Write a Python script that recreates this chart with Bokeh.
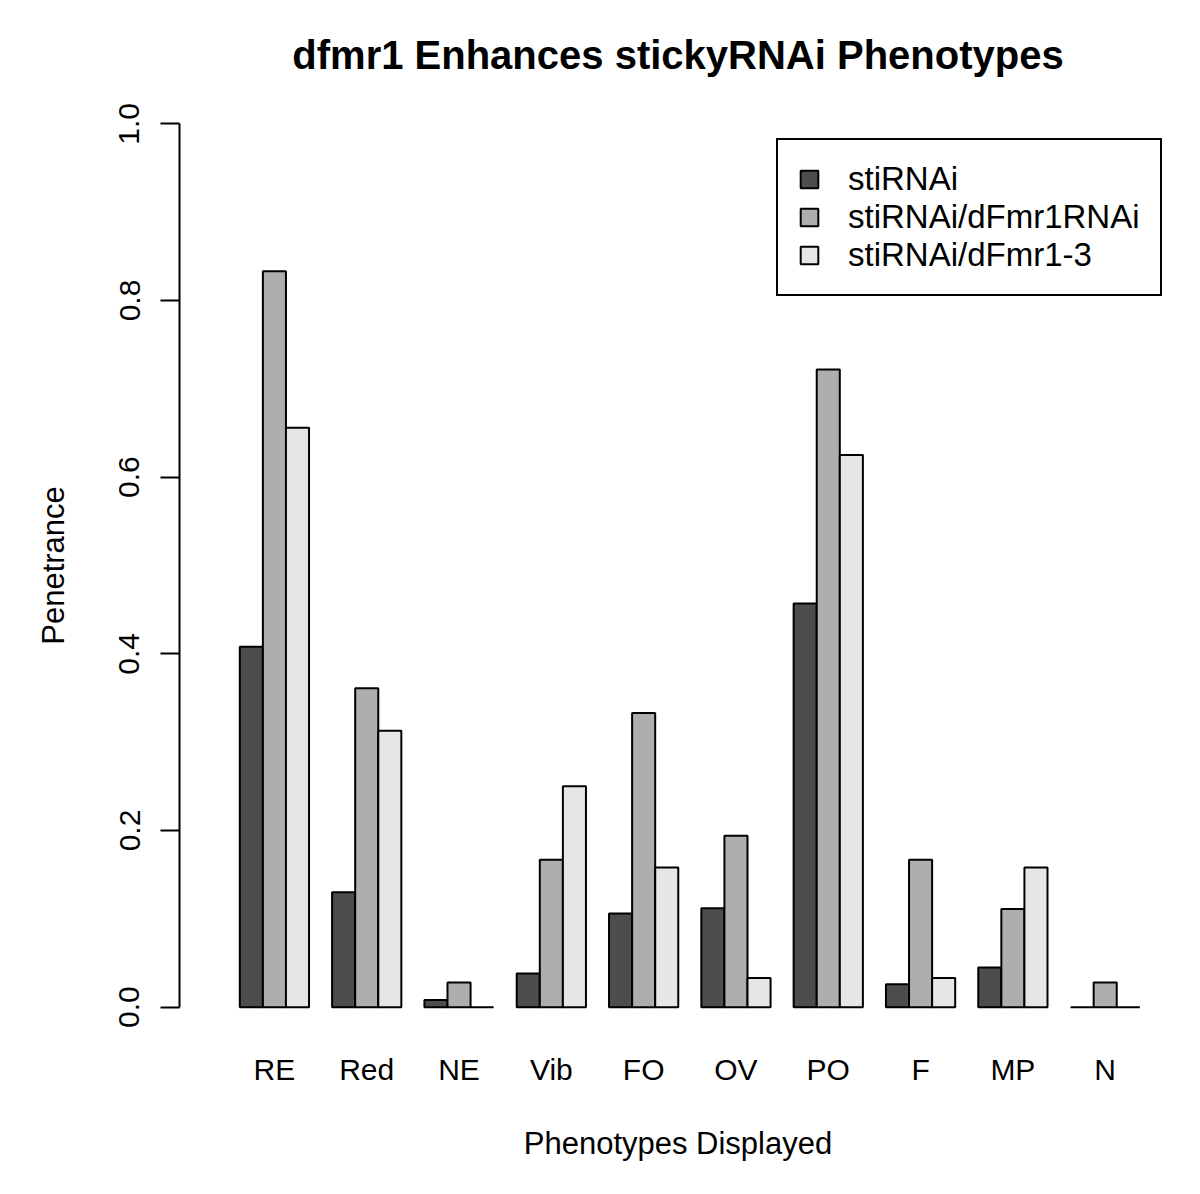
from bokeh.plotting import figure
from bokeh.models import ColumnDataSource, FixedTicker, Legend, LegendItem, Range1d
from bokeh.embed import file_html
from bokeh.resources import INLINE

categories = ["RE", "Red", "NE", "Vib", "FO", "OV", "PO", "F", "MP", "N"]
series_names = ["stiRNAi", "stiRNAi/dFmr1RNAi", "stiRNAi/dFmr1-3"]
sti = [0.408, 0.130, 0.008, 0.038, 0.106, 0.112, 0.457, 0.026, 0.045, 0.0]
sti_fmr_rnai = [0.833, 0.361, 0.028, 0.167, 0.333, 0.194, 0.722, 0.167, 0.111, 0.028]
sti_fmr_3 = [0.656, 0.313, 0.0, 0.250, 0.158, 0.033, 0.625, 0.033, 0.158, 0.0]
colors = ["#4D4D4D", "#AEAEAE", "#E6E6E6"]
y_ticks = [0.0, 0.2, 0.4, 0.6, 0.8, 1.0]

FONT = "Liberation Sans"

p = figure(width=1184, height=1178, output_backend="svg", toolbar_location=None,
           x_range=Range1d(-1.613, 41.59), y_range=Range1d(-0.04, 1.04),
           min_border_left=179, min_border_right=8, min_border_top=88, min_border_bottom=136,
           title="dfmr1 Enhances stickyRNAi Phenotypes")
p.outline_line_color = None
p.xgrid.visible = False
p.ygrid.visible = False
p.background_fill_color = "white"
p.border_fill_color = "white"

p.title.align = "center"
p.title.text_font = FONT
p.title.text_font_size = "40px"
p.title.text_font_style = "bold"
p.title.text_color = "black"
p.title.standoff = 23

all_series = [sti, sti_fmr_rnai, sti_fmr_3]
renderers = []
for j, vals in enumerate(all_series):
    xs = [4 * i + 1.5 + j for i in range(len(categories))]
    src = ColumnDataSource(dict(x=xs, top=vals, cat=categories))
    r = p.vbar(x="x", top="top", bottom=0, width=1.0, source=src,
               fill_color=colors[j], line_color="black", line_width=2)
    renderers.append(r)

# x axis: category labels only
xa = p.xaxis[0]
xa.ticker = FixedTicker(ticks=[4 * i + 2.5 for i in range(len(categories))])
xa.major_label_overrides = {4 * i + 2.5: c for i, c in enumerate(categories)}
xa.axis_line_color = None
xa.major_tick_line_color = None
xa.minor_tick_line_color = None
xa.major_label_text_font = FONT
xa.major_label_text_font_size = "30px"
xa.major_label_text_color = "black"
xa.major_label_standoff = 4
xa.axis_label = "Phenotypes Displayed"
xa.axis_label_text_font = FONT
xa.axis_label_text_font_size = "31px"
xa.axis_label_text_font_style = "normal"
xa.axis_label_text_color = "black"
xa.axis_label_standoff = 37

ya = p.yaxis[0]
ya.ticker = FixedTicker(ticks=y_ticks)
ya.bounds = (0, 1)
ya.major_label_overrides = {v: f"{v:.1f}" for v in y_ticks}
ya.axis_line_color = "black"
ya.axis_line_width = 2
ya.major_tick_line_color = "black"
ya.major_tick_line_width = 2
ya.major_tick_out = 19
ya.major_tick_in = 0
ya.minor_tick_line_color = None
ya.major_label_orientation = "vertical"
ya.major_label_text_font = FONT
ya.major_label_text_font_size = "30px"
ya.major_label_text_color = "black"
ya.major_label_standoff = 21
ya.axis_label = "Penetrance"
ya.axis_label_text_font = FONT
ya.axis_label_text_font_size = "31px"
ya.axis_label_text_font_style = "normal"
ya.axis_label_text_color = "black"
ya.axis_label_standoff = 46

legend = Legend(items=[LegendItem(label=series_names[j], renderers=[renderers[j]]) for j in range(3)],
                location=(597, 746))
legend.border_line_color = "black"
legend.border_line_width = 2
legend.border_line_alpha = 1.0
legend.background_fill_color = "white"
legend.background_fill_alpha = 1.0
legend.label_text_font = FONT
legend.label_text_font_size = "33px"
legend.label_text_color = "black"
legend.glyph_width = 22
legend.glyph_height = 22
legend.label_height = 22
legend.label_standoff = 28
legend.padding = 20
legend.spacing = 0
legend.margin = 0
p.add_layout(legend, "center")

open("out.html", "w").write(file_html(p, INLINE))
